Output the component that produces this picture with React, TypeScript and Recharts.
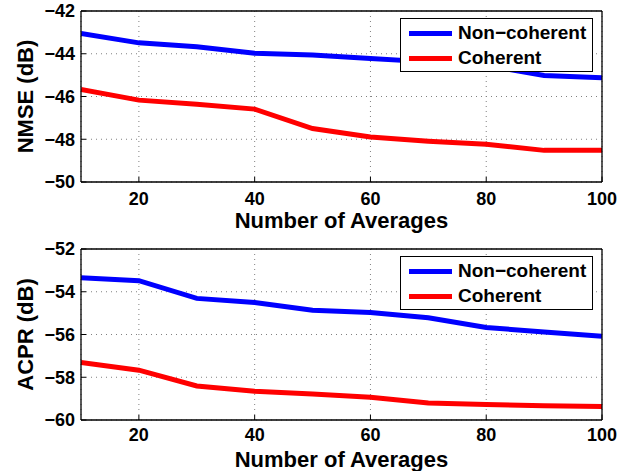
import {
  LineChart,
  Line,
  XAxis,
  YAxis,
  CartesianGrid,
  Legend,
} from 'recharts'

const averages = [10, 20, 30, 40, 50, 60, 70, 80, 90, 100]
const nmseNonCoherent = [-43.05, -43.49, -43.67, -43.98, -44.06, -44.22, -44.38, -44.55, -45.02, -45.12]
const nmseCoherent = [-45.67, -46.17, -46.36, -46.59, -47.5, -47.89, -48.09, -48.23, -48.52, -48.52]
const acprNonCoherent = [-53.34, -53.48, -54.31, -54.5, -54.86, -54.97, -55.22, -55.67, -55.88, -56.08]
const acprCoherent = [-57.31, -57.67, -58.41, -58.66, -58.78, -58.94, -59.2, -59.27, -59.33, -59.37]

const xTicks = [20, 40, 60, 80, 100]
const nmseTicks = [-50, -48, -46, -44, -42]
const acprTicks = [-60, -58, -56, -54, -52]
const seriesOrder = ['non', 'coh']

const FONT = '"Liberation Sans", Arial, Helvetica, sans-serif'
const tickStyle = { fontFamily: FONT, fontWeight: 700, fontSize: 18, fill: '#000' }
const axisLineStyle = { stroke: '#000', strokeWidth: 1.3 }
const tickLineStyle = { stroke: '#000', strokeWidth: 1 }

const fmt = (v: number) => String(v).replace('-', '\u2212')

function LegendBox(props: any) {
  const items = [...(props.payload || [])].sort(
    (a: any, b: any) => seriesOrder.indexOf(a.dataKey) - seriesOrder.indexOf(b.dataKey)
  )
  return (
    <div
      style={{
        position: 'relative',
        boxSizing: 'border-box',
        width: 193,
        height: 54,
        border: '1px solid #000',
        background: '#fff',
      }}
    >
      {items.map((item: any, i: number) => (
        <div
          key={i}
          style={{
            position: 'absolute',
            left: 8,
            top: 2 + i * 25,
            height: 24,
            display: 'flex',
            alignItems: 'center',
          }}
        >
          <div style={{ width: 43, height: 5, background: item.color }} />
          <span
            style={{
              marginLeft: 6,
              fontFamily: FONT,
              fontWeight: 700,
              fontSize: 19,
              lineHeight: '24px',
              color: '#000',
              whiteSpace: 'nowrap',
            }}
          >
            {item.value}
          </span>
        </div>
      ))}
    </div>
  )
}

interface PanelProps {
  nonCoherent: number[]
  coherent: number[]
  yTicks: number[]
  yLabel: string
  marginTop: number
  xTickMargin: number
  xLabelOffset: number
}

function Panel({ nonCoherent, coherent, yTicks, yLabel, marginTop, xTickMargin, xLabelOffset }: PanelProps) {
  const data = averages.map((x, i) => ({ x, non: nonCoherent[i], coh: coherent[i] }))
  const domain = [yTicks[0], yTicks[yTicks.length - 1]]
  return (
    <LineChart
      width={632}
      height={235}
      data={data}
      margin={{ top: marginTop, right: 29, bottom: 0, left: 0 }}
    >
      <CartesianGrid stroke="#808080" strokeDasharray="1 4" />
      <XAxis
        dataKey="x"
        type="number"
        domain={[10, 100]}
        ticks={xTicks}
        allowDataOverflow
        height={235 - marginTop - 1 - 171}
        tickSize={-5}
        tickMargin={xTickMargin}
        tick={tickStyle}
        axisLine={axisLineStyle}
        tickLine={tickLineStyle}
        label={{
          value: 'Number of Averages',
          position: 'insideBottom',
          offset: xLabelOffset,
          style: { fontFamily: FONT, fontWeight: 700, fontSize: 22, fill: '#000' },
        }}
      />
      <XAxis
        xAxisId="top"
        orientation="top"
        dataKey="x"
        type="number"
        domain={[10, 100]}
        ticks={xTicks}
        allowDataOverflow
        height={1}
        tickSize={-5}
        tick={false}
        axisLine={axisLineStyle}
        tickLine={tickLineStyle}
      />
      <YAxis
        type="number"
        domain={domain}
        ticks={yTicks}
        allowDataOverflow
        width={81}
        tickSize={-5}
        tickMargin={11}
        tick={tickStyle}
        tickFormatter={fmt}
        axisLine={axisLineStyle}
        tickLine={tickLineStyle}
        label={{
          value: yLabel,
          angle: -90,
          position: 'insideLeft',
          offset: 25,
          style: { fontFamily: FONT, fontWeight: 700, fontSize: 22, fill: '#000', textAnchor: 'middle' },
        }}
      />
      <YAxis
        yAxisId="right"
        orientation="right"
        type="number"
        domain={domain}
        ticks={yTicks}
        allowDataOverflow
        width={1}
        tickSize={-5}
        tick={false}
        axisLine={axisLineStyle}
        tickLine={tickLineStyle}
      />
      <Line
        type="linear"
        dataKey="non"
        name={'Non\u2212coherent'}
        stroke="#0000ff"
        strokeWidth={5}
        dot={false}
        isAnimationActive={false}
      />
      <Line
        type="linear"
        dataKey="coh"
        name="Coherent"
        stroke="#ff0000"
        strokeWidth={5}
        dot={false}
        isAnimationActive={false}
      />
      <Legend
        layout="horizontal"
        verticalAlign="middle"
        align="center"
        wrapperStyle={{ left: 400, top: marginTop + 1 + 7, width: 193, height: 54 }}
        content={LegendBox}
      />
    </LineChart>
  )
}

export default function App() {
  return (
    <div style={{ position: 'absolute', left: 0, top: 0, width: 632, height: 471, background: '#fff' }}>
      <div style={{ position: 'absolute', left: 0, top: 0 }}>
        <Panel
          nonCoherent={nmseNonCoherent}
          coherent={nmseCoherent}
          yTicks={nmseTicks}
          yLabel="NMSE (dB)"
          marginTop={10}
          xTickMargin={15}
          xLabelOffset={7}
        />
      </div>
      <div style={{ position: 'absolute', left: 0, top: 236 }}>
        <Panel
          nonCoherent={acprNonCoherent}
          coherent={acprCoherent}
          yTicks={acprTicks}
          yLabel="ACPR (dB)"
          marginTop={12}
          xTickMargin={13}
          xLabelOffset={4}
        />
      </div>
    </div>
  )
}
